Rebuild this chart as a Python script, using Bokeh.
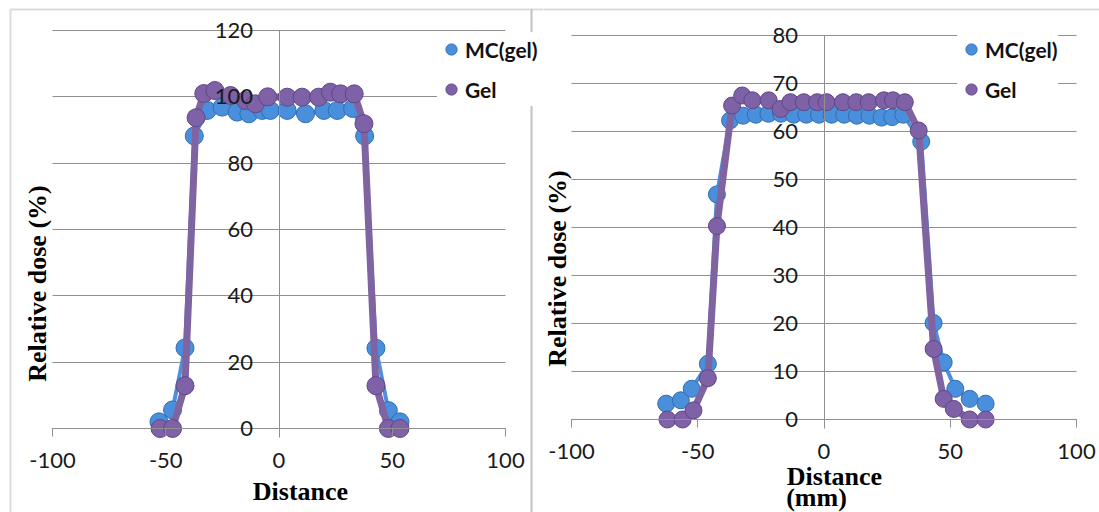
import numpy as np
from bokeh.plotting import figure
from bokeh.models import (LinearAxis, FixedTicker, Legend, LegendItem, Label,
                          BoxAnnotation, Grid, ColumnDataSource, PrintfTickFormatter)
from bokeh.layouts import row
from bokeh.embed import file_html
from bokeh.resources import INLINE

# ---------------- data ----------------
# Left panel
gel_a_x = [-52.5, -47, -41.5, -36.6, -33.2, -28.3, -21.4, -14.8, -10.4, -5.0, 3.6, 10.2, 17.5, 22.7, 27.2, 33.2, 37.5, 42.8, 48.3, 53.4]
gel_a_y = [0, 0, 12.9, 93.7, 101.0, 101.9, 100.4, 98.9, 97.9, 100.0, 99.9, 99.9, 99.9, 101.4, 100.9, 100.9, 91.9, 12.9, 0, 0]
mc_a_x = [-53, -47, -41.5, -37.4, -31.7, -25.1, -18.5, -13.3, -7.4, -3.8, 3.6, 11.7, 19.8, 25.7, 32.5, 37.8, 42.8, 48.3, 53.4]
mc_a_y = [2.0, 5.6, 24.3, 88.2, 95.9, 96.9, 95.4, 94.9, 95.9, 95.9, 95.9, 94.9, 95.9, 95.9, 96.5, 88.2, 24.2, 5.4, 2.0]

# Right panel
gel_b_x = [-62, -56, -51.7, -46, -42.4, -36.4, -32.4, -28.4, -21.9, -17.2, -13.3, -8.0, -2.7, 1.0, 7.5, 12.8, 17.7, 23.7, 27.3, 32.0, 37.5, 43.4, 47.4, 51.4, 57.7, 64]
gel_b_y = [0, 0, 1.9, 8.6, 40.3, 65.4, 67.5, 66.5, 66.5, 64.7, 66.1, 66.1, 66.1, 66.1, 66.1, 66.1, 66.1, 66.5, 66.5, 66.1, 60.2, 14.7, 4.3, 2.2, 0, 0]
mc_b_x = [-62.5, -56.7, -52.4, -46, -42.4, -37.2, -32, -27, -22, -17, -12, -7, -2, 3, 8, 13, 18, 22.8, 27, 31.4, 38.5, 43.4, 47.4, 52, 57.7, 64]
mc_b_y = [3.3, 4.0, 6.4, 11.6, 46.9, 62.3, 63.3, 63.5, 63.7, 63.7, 63.5, 63.5, 63.5, 63.5, 63.5, 63.3, 63.3, 62.9, 63.0, 63.5, 57.9, 20.1, 11.9, 6.4, 4.3, 3.3]

x_ticks = [-100, -50, 0, 50, 100]
y_ticks_a = [0, 20, 40, 60, 80, 100, 120]
y_ticks_b = [0, 10, 20, 30, 40, 50, 60, 70, 80]

series_names = ["MC(gel)", "Gel"]
y_title = "Relative dose (%)"
x_title = "Distance"
x_unit = "(mm)"

# ---------------- style / layout ----------------
GRID = "#8f8f8f"
BORDER = "#8a8a8a"
BLUE_LINE = "#4f8fdc"
BLUE_FILL = "#4a8fdb"
BLUE_EDGE = "#2f6db5"
PURPLE_LINE = "#8064a2"
PURPLE_FILL = "#7e61a7"
PURPLE_EDGE = "#5f4787"
TICK_FONT = "Lato"
TITLE_FONT = "Liberation Serif"
H = 512
W_L, W_R = 543, 556


class Mapper:
    """Pixel <-> data mapping for a panel whose frame fills the whole canvas."""
    def __init__(self, width, xa, pxa, xb, pxb, ya, pya, yb, pyb):
        self.kx = (pxb - pxa) / (xb - xa)
        self.xa, self.pxa = xa, pxa
        self.ky = (pyb - pya) / (yb - ya)
        self.ya, self.pya = ya, pya
        self.x_range = (self.x(0), self.x(width))
        self.y_range = (self.y(H), self.y(0))

    def x(self, px):
        return self.xa + (px - self.pxa) / self.kx

    def y(self, py):
        return self.ya + (py - self.pya) / self.ky

    def py(self, y):
        return self.pya + (y - self.ya) * self.ky


def make_panel(width, m, y_ticks, mc_x, mc_y, gel_x, gel_y, msize,
               legend_loc, titles, boxes):
    p = figure(width=width, height=H, x_range=m.x_range, y_range=m.y_range,
               output_backend="svg", toolbar_location=None, title=None,
               x_axis_location=None, y_axis_location=None,
               min_border=0, min_border_left=0, min_border_right=0,
               min_border_top=0, min_border_bottom=0)
    p.outline_line_color = None
    p.background_fill_color = "white"
    p.border_fill_color = "white"
    p.grid.visible = False

    # panel borders
    for (l, r, t, b) in boxes:
        p.add_layout(BoxAnnotation(left=l, right=r, top=t, bottom=b,
                                   left_units="canvas", right_units="canvas",
                                   top_units="canvas", bottom_units="canvas",
                                   fill_color=None, fill_alpha=0,
                                   line_color=BORDER, line_width=2))

    # horizontal gridlines limited to the x tick span
    if "cross_bounds" in Grid.properties():
        p.add_layout(Grid(dimension=1, ticker=FixedTicker(ticks=y_ticks),
                          cross_bounds=(x_ticks[0], x_ticks[-1]),
                          grid_line_color=GRID, grid_line_width=1))
    else:
        p.segment(x0=[x_ticks[0]] * len(y_ticks), x1=[x_ticks[-1]] * len(y_ticks),
                  y0=y_ticks, y1=y_ticks, line_color=GRID, line_width=1)

    ybot = m.y(m.py(y_ticks[0]) + 9)  # vertical axis reaches 9px below zero
    yax = LinearAxis(fixed_location=0, ticker=FixedTicker(ticks=y_ticks),
                     bounds=(ybot, y_ticks[-1]),
                     formatter=PrintfTickFormatter(format="%d"),
                     axis_line_color=GRID, axis_line_width=1,
                     major_tick_line_color=None, major_tick_out=0, major_tick_in=0,
                     minor_tick_line_color=None, major_label_standoff=26,
                     major_label_text_font=TICK_FONT,
                     major_label_text_font_size="22px",
                     major_label_text_color="#1a1a1a")
    p.add_layout(yax, "left")
    xax = LinearAxis(fixed_location=0, ticker=FixedTicker(ticks=x_ticks),
                     bounds=(x_ticks[0], x_ticks[-1]),
                     formatter=PrintfTickFormatter(format="%d"),
                     axis_line_color=GRID, axis_line_width=1,
                     major_tick_line_color=GRID, major_tick_out=8, major_tick_in=0,
                     minor_tick_line_color=None, major_label_standoff=16,
                     major_label_text_font=TICK_FONT,
                     major_label_text_font_size="22px",
                     major_label_text_color="#1a1a1a")
    p.add_layout(xax, "below")

    mc_src = ColumnDataSource(dict(x=mc_x, y=mc_y))
    gel_src = ColumnDataSource(dict(x=gel_x, y=gel_y))

    p.line("x", "y", source=mc_src, line_color=BLUE_LINE, line_width=4)
    mc_sc = p.scatter("x", "y", source=mc_src, size=msize, fill_color=BLUE_FILL,
                      line_color=BLUE_EDGE, line_width=1)
    p.line("x", "y", source=gel_src, line_color=PURPLE_LINE, line_width=7)
    gel_sc = p.scatter("x", "y", source=gel_src, size=msize, fill_color=PURPLE_FILL,
                       line_color=PURPLE_EDGE, line_width=1)

    for (txt, px, py, ang) in titles:
        p.add_layout(Label(x=m.x(px), y=m.y(py), text=txt, angle=ang,
                           text_align="center", text_baseline="middle",
                           text_font=TITLE_FONT, text_font_style="bold",
                           text_font_size="26px", text_color="black"))

    leg = Legend(items=[LegendItem(label=series_names[0], renderers=[mc_sc]),
                        LegendItem(label=series_names[1], renderers=[gel_sc])],
                 location=legend_loc, glyph_width=28, glyph_height=34,
                 label_height=34, spacing=6, padding=2, label_standoff=0,
                 margin=0, border_line_color=None,
                 background_fill_color="white", background_fill_alpha=1,
                 label_text_font=TICK_FONT, label_text_font_style="bold",
                 label_text_font_size="21px", label_text_color="#111111")
    p.add_layout(leg)
    return p


m_left = Mapper(W_L, -100, 52, 100, 505, 120, 30, 0, 428)
m_right = Mapper(W_R, -100, 28, 100, 533, 80, 35, 0, 419)

left = make_panel(W_L, m_left, y_ticks_a, mc_a_x, mc_a_y, gel_a_x, gel_a_y, 18,
                  (437, 406),
                  [(x_title, 300, 491, 0), (y_title, 37, 283, np.pi / 2)],
                  [(10, 531, 9, 700), (531, 900, 9, 700)])

right = make_panel(W_R, m_right, y_ticks_b, mc_b_x, mc_b_y, gel_b_x, gel_b_y, 17,
                   (414, 406),
                   [(x_title, 834 - 543, 476, 0), (x_unit, 816 - 543, 497, 0),
                    (y_title, 557 - 543, 268, np.pi / 2)],
                   [(-20, 900, 9, 700)])

layout = row(left, right)
open("out.html", "w").write(file_html(layout, INLINE))
